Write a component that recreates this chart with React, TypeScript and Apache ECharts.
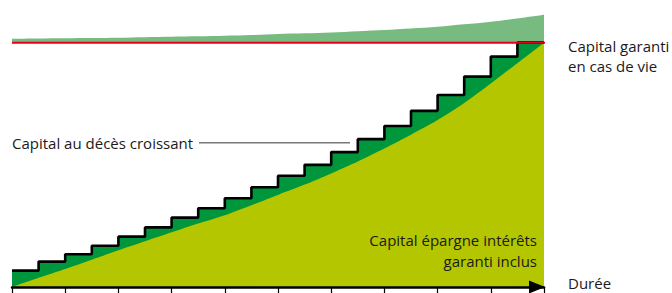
import React, { useEffect, useRef } from "react";
import * as echarts from "echarts";

// Years of the contract (x axis)
const years: number[] = Array.from({ length: 21 }, (_, i) => i);

// Capital au décès croissant: one level per year (year k-1 .. k)
const deathCapitalSteps: number[] = [
  6.7, 10.4, 13.4, 16.9, 20.6, 24.4, 28.4, 32.2, 36.3, 40.8,
  45.5, 50.0, 55.2, 60.5, 65.9, 72.1, 78.6, 86.1, 94.3, 100,
];

// Capital épargne intérêts garanti inclus (per year 0..20)
const savingsCapital: number[] = [
  0, 3.8, 7.4, 11.2, 15.0, 18.7, 22.4, 26.0, 29.4, 33.5,
  37.7, 41.9, 46.5, 51.4, 56.7, 62.3, 68.3, 75.3, 83.3, 91.6, 100,
];

// Upper (surplus) curve above the guaranteed capital (per year 0..20)
const surplusTop: number[] = [
  101.6, 101.7, 101.8, 101.9, 102.0, 102.2, 102.4, 102.6, 102.8, 103.1,
  103.5, 103.8, 104.2, 104.7, 105.2, 105.8, 106.5, 107.5, 108.6, 109.9, 111.4,
];

// Capital garanti en cas de vie
const guaranteedCapital = 100;
const guaranteedLineEnd = 20.5;

const labelDeath = "Capital au décès croissant";
const labelGuaranteed = ["Capital garanti", "en cas de vie"];
const labelSavings = ["Capital épargne intérêts", "garanti inclus"];
const labelDuration = "Durée";

const FONT = "15px 'Open Sans', 'Noto Sans', sans-serif";
const TEXT = "#1a1a1a";

export default function App() {
  const ref = useRef<HTMLDivElement>(null);

  useEffect(() => {
    document.body.style.margin = "0";
    if (!ref.current) return;
    const chart = echarts.init(ref.current, undefined, { renderer: "svg" });

    const stepData = deathCapitalSteps.map((v, i) => [years[i], v]);
    stepData.push([years[20], deathCapitalSteps[19]]);
    const savingsData = savingsCapital.map((v, i) => [years[i], v]);
    const coverData = years.map((y) => [y, guaranteedCapital]);
    const surplusData = surplusTop.map((v, i) => [years[i], v]);

    const txt = (text: string, x: number, y: number, align: string) => ({
      type: "text",
      x,
      y,
      z: 100,
      style: { text, font: FONT, fill: TEXT, textAlign: align, textVerticalAlign: "middle" },
    });

    chart.setOption({
      animation: false,
      grid: { left: 12, right: 128, top: 6, bottom: 6 },
      xAxis: {
        type: "value",
        min: 0,
        max: 20,
        interval: 2,
        axisLine: {
          show: true,
          symbol: ["none", "triangle"],
          symbolSize: [13, 16],
          symbolOffset: [0, -7],
          lineStyle: { color: "#000", width: 2.5 },
        },
        axisTick: { show: true, length: 7, lineStyle: { color: "#000", width: 1.2 } },
        axisLabel: { show: false },
        splitLine: { show: false },
        z: 10,
      },
      yAxis: {
        type: "value",
        min: 0,
        max: 115,
        show: false,
        splitLine: { show: false },
      },
      series: [
        {
          name: "surplus",
          type: "line",
          data: surplusData,
          symbol: "none",
          smooth: 0.3,
          lineStyle: { width: 0, opacity: 0 },
          areaStyle: { color: "#78bb80", opacity: 1 },
          z: 1,
        },
        {
          name: "cover",
          type: "line",
          data: coverData,
          symbol: "none",
          silent: true,
          lineStyle: { width: 0, opacity: 0 },
          areaStyle: { color: "#ffffff", opacity: 1 },
          z: 1,
        },
        {
          name: "deathArea",
          type: "line",
          step: "end",
          data: stepData,
          symbol: "none",
          lineStyle: { width: 0, opacity: 0 },
          areaStyle: { color: "#00963c", opacity: 1 },
          z: 2,
        },
        {
          name: "savings",
          type: "line",
          data: savingsData,
          symbol: "none",
          smooth: 0.2,
          lineStyle: { width: 0, opacity: 0 },
          areaStyle: { color: "#b4c600", opacity: 1 },
          z: 3,
        },
        {
          name: "deathLine",
          type: "line",
          step: "end",
          data: stepData,
          symbol: "none",
          lineStyle: { color: "#000", width: 2.6 },
          z: 4,
        },
        {
          name: "guaranteed",
          type: "line",
          data: [
            [0, guaranteedCapital],
            [guaranteedLineEnd, guaranteedCapital],
          ],
          clip: false,
          symbol: "none",
          lineStyle: { color: "#e3001b", width: 2 },
          z: 5,
        },
      ],
      graphic: [
        txt(labelDeath, 12, 143, "left"),
        {
          type: "line",
          z: 100,
          shape: { x1: 199, y1: 142.7, x2: 350, y2: 142.7 },
          style: { stroke: "#777", lineWidth: 1.5 },
        },
        txt(labelGuaranteed[0], 568, 46, "left"),
        txt(labelGuaranteed[1], 568, 66, "left"),
        txt(labelSavings[0], 537, 240, "right"),
        txt(labelSavings[1], 537, 261, "right"),
        txt(labelDuration, 568, 283, "left"),
      ],
    });

    return () => chart.dispose();
  }, []);

  return (
    <div
      ref={ref}
      style={{ position: "absolute", left: 0, top: 0, width: 672, height: 293 }}
    />
  );
}
